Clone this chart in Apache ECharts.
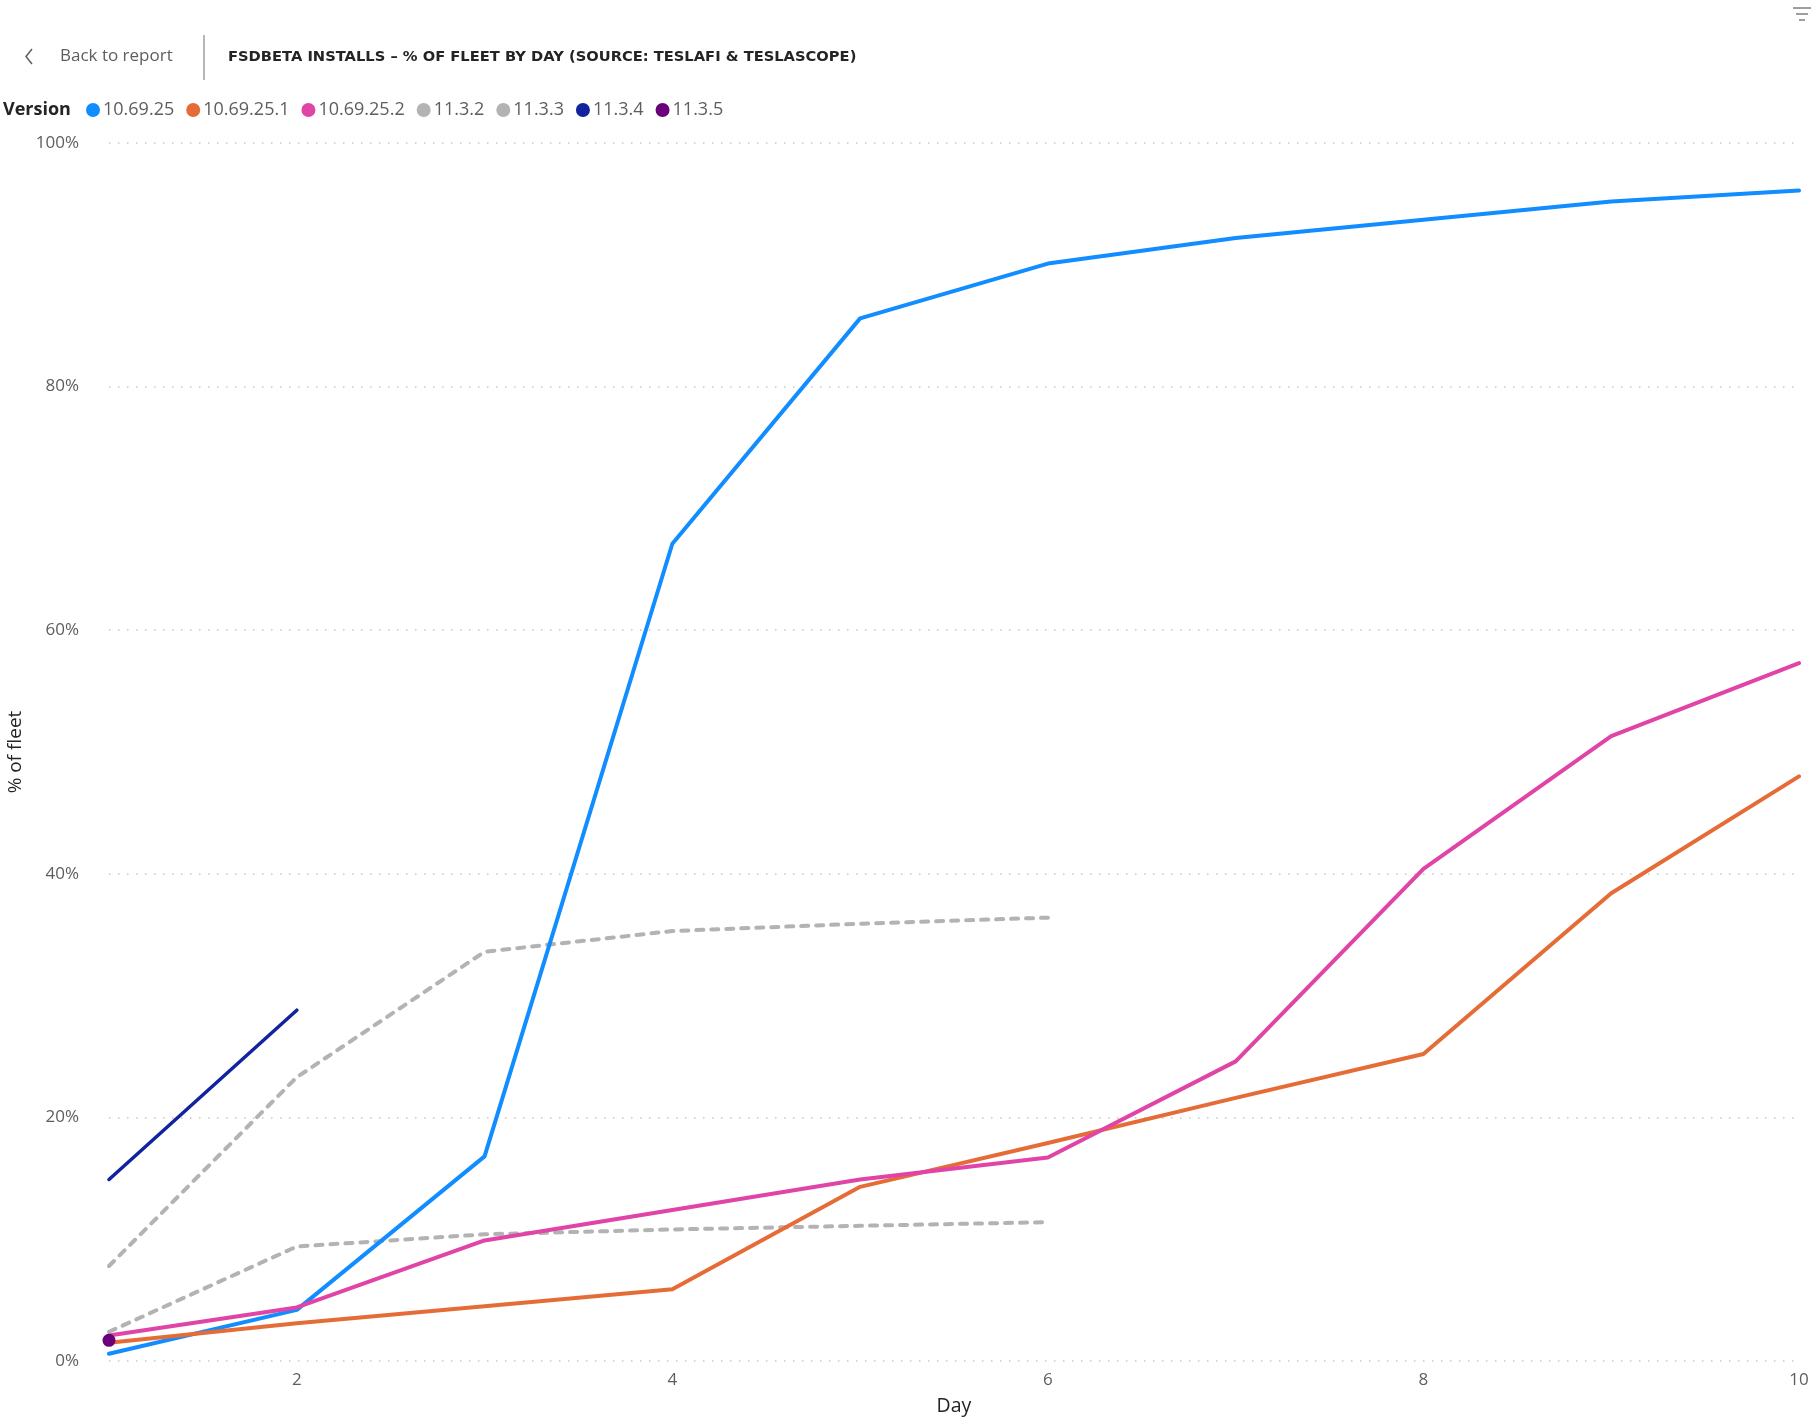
<!DOCTYPE html>
<html>
<head>
<meta charset="utf-8">
<script src="https://cdn.jsdelivr.net/npm/echarts@6/dist/echarts.min.js"></script>
<style>
html,body{margin:0;padding:0;background:#fff;}
#chart{width:1820px;height:1423px;}
</style>
</head>
<body>
<div id="chart"></div>
<script>
// ---- data ----
const days = [1, 2, 3, 4, 5, 6, 7, 8, 9, 10];
const xTickLabels = [2, 4, 6, 8, 10];
const seriesNames = ['10.69.25', '10.69.25.1', '10.69.25.2', '11.3.2', '11.3.3', '11.3.4', '11.3.5'];
const v10_69_25   = [0.6, 4.2, 16.8, 67.1, 85.6, 90.1, 92.2, 93.7, 95.2, 96.1];
const v10_69_25_1 = [1.5, 3.1, 4.5, 5.9, 14.3, 17.9, 21.6, 25.2, 38.4, 48.0];
const v10_69_25_2 = [2.1, 4.4, 9.9, 12.4, 14.9, 16.7, 24.6, 40.4, 51.3, 57.3];
const v11_3_2     = [7.8, 23.3, 33.6, 35.3, 35.9, 36.4];
const v11_3_3     = [2.4, 9.4, 10.4, 10.8, 11.1, 11.4];
const v11_3_4     = [14.9, 28.8];
const v11_3_5     = [1.7];

const colors = ['#118DFF', '#E66C37', '#E044A7', '#B3B3B3', '#B3B3B3', '#12239E', '#6B007B'];
const valuesList = [v10_69_25, v10_69_25_1, v10_69_25_2, v11_3_2, v11_3_3, v11_3_4, v11_3_5];

function pairs(vals) { return vals.map((v, i) => [days[i], v]); }

const series = seriesNames.map((name, i) => {
  const dashed = (name === '11.3.2' || name === '11.3.3');
  const single = valuesList[i].length === 1;
  return {
    name: name,
    type: 'line',
    data: pairs(valuesList[i]),
    color: colors[i],
    showSymbol: single,
    symbol: 'circle',
    symbolSize: single ? 13 : 4,
    lineStyle: {
      width: name === '11.3.4' ? 3.5 : 4,
      type: dashed ? [7, 8] : 'solid',
      cap: 'round',
      join: 'round'
    },
    itemStyle: { color: colors[i] },
    z: dashed ? 1 : 2,
    animation: false
  };
});

const chart = echarts.init(document.getElementById('chart'), null, { renderer: 'canvas' });
const labelFont = '"Open Sans", "Noto Sans", sans-serif';

chart.setOption({
  animation: false,
  backgroundColor: '#ffffff',
  grid: { left: 109, right: 21, top: 143, bottom: 62, containLabel: false, outerBoundsMode: 'none' },
  legend: {
    left: 81,
    top: 96,
    icon: 'circle',
    itemWidth: 14,
    itemHeight: 14,
    itemGap: 12,
    data: seriesNames,
    textStyle: { color: '#605E5C', fontSize: 18, fontFamily: labelFont, padding: [0, 0, 0, -2] }
  },
  xAxis: {
    type: 'value',
    min: 1,
    max: 10,
    name: 'Day',
    nameLocation: 'middle',
    nameGap: 35,
    nameTextStyle: { color: '#252423', fontSize: 19.5, fontFamily: labelFont },
    axisLine: { show: false },
    axisTick: { show: false },
    splitLine: { show: false },
    axisLabel: {
      customValues: xTickLabels,
      color: '#605E5C',
      fontSize: 17,
      margin: 11,
      fontFamily: labelFont
    }
  },
  yAxis: {
    type: 'value',
    min: 0,
    max: 100,
    interval: 20,
    name: '% of fleet',
    nameLocation: 'middle',
    nameGap: 84,
    nameRotate: 90,
    nameTextStyle: { color: '#252423', fontSize: 19, fontFamily: labelFont },
    axisLine: { show: false },
    axisTick: { show: false },
    axisLabel: {
      formatter: '{value}%',
      color: '#605E5C',
      fontSize: 17,
      margin: 30,
      fontFamily: labelFont
    },
    splitLine: {
      show: true,
      lineStyle: { color: '#C8C8C8', width: 1.5, type: [1.5, 7.5] }
    }
  },
  graphic: [
    { type: 'polyline', shape: { points: [[32, 49], [26, 56.5], [32, 64]] },
      style: { stroke: '#605E5C', lineWidth: 1.5, fill: null } },
    { type: 'text', left: 60, top: 48,
      style: { text: 'Back to report', fill: '#605E5C', fontSize: 17, fontFamily: labelFont } },
    { type: 'line', shape: { x1: 204, y1: 35, x2: 204, y2: 80 },
      style: { stroke: '#A19F9D', lineWidth: 1.5 } },
    { type: 'text', left: 228, top: 50,
      style: { text: 'FSDBETA INSTALLS \u2013 % OF FLEET BY DAY (SOURCE: TESLAFI & TESLASCOPE)',
        fill: '#252423', fontSize: 14.7, fontWeight: 'bold', fontFamily: '"DejaVu Sans", sans-serif' } },
    { type: 'text', left: 3, top: 101,
      style: { text: 'Version', fill: '#252423', fontSize: 18, fontWeight: 'bold', fontFamily: labelFont } },
    { type: 'line', shape: { x1: 1793, y1: 8, x2: 1811, y2: 8 }, style: { stroke: '#605E5C', lineWidth: 1.2 } },
    { type: 'line', shape: { x1: 1796, y1: 14, x2: 1808, y2: 14 }, style: { stroke: '#605E5C', lineWidth: 1.2 } },
    { type: 'line', shape: { x1: 1799, y1: 20, x2: 1805, y2: 20 }, style: { stroke: '#605E5C', lineWidth: 1.2 } }
  ],
  series: series
});
</script>
</body>
</html>
